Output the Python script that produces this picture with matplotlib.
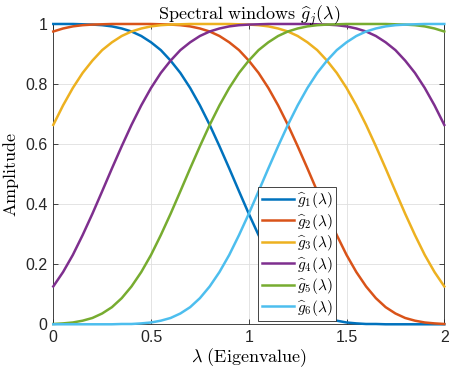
import numpy as np
import matplotlib
matplotlib.use("Agg")
import matplotlib.pyplot as plt

# eigenvalue grid (0 to 2, step 0.05) and the six window curves
lam = [i * 0.05 for i in range(41)]

g1 = [1.000, 1.000, 1.000, 0.999, 0.998, 0.996, 0.992, 0.985, 0.975, 0.960, 0.939,
      0.913, 0.878, 0.837, 0.787, 0.729, 0.664, 0.593, 0.519, 0.443, 0.368, 0.297,
      0.231, 0.174, 0.126, 0.087, 0.057, 0.036, 0.021, 0.012, 0.006, 0.003, 0.001,
      0.001, 0.000, 0.000, 0.000, 0.000, 0.000, 0.000, 0.000]
g2 = [0.975, 0.985, 0.992, 0.996, 0.998, 0.999, 1.000, 1.000, 1.000, 1.000, 1.000,
      0.999, 0.998, 0.996, 0.992, 0.985, 0.975, 0.960, 0.939, 0.913, 0.878, 0.837,
      0.787, 0.729, 0.664, 0.593, 0.519, 0.443, 0.368, 0.297, 0.231, 0.174, 0.126,
      0.087, 0.057, 0.036, 0.021, 0.012, 0.006, 0.003, 0.001]
g3 = [0.664, 0.729, 0.787, 0.837, 0.878, 0.913, 0.939, 0.960, 0.975, 0.985, 0.992,
      0.996, 0.998, 0.999, 1.000, 1.000, 1.000, 1.000, 1.000, 0.999, 0.998, 0.996,
      0.992, 0.985, 0.975, 0.960, 0.939, 0.913, 0.878, 0.837, 0.787, 0.729, 0.664,
      0.593, 0.519, 0.443, 0.368, 0.297, 0.231, 0.174, 0.126]
g4 = [0.126, 0.174, 0.231, 0.297, 0.368, 0.443, 0.519, 0.593, 0.664, 0.729, 0.787,
      0.837, 0.878, 0.913, 0.939, 0.960, 0.975, 0.985, 0.992, 0.996, 0.998, 0.999,
      1.000, 1.000, 1.000, 1.000, 1.000, 0.999, 0.998, 0.996, 0.992, 0.985, 0.975,
      0.960, 0.939, 0.913, 0.878, 0.837, 0.787, 0.729, 0.664]
g5 = [0.001, 0.003, 0.006, 0.012, 0.021, 0.036, 0.057, 0.087, 0.126, 0.174, 0.231,
      0.297, 0.368, 0.443, 0.519, 0.593, 0.664, 0.729, 0.787, 0.837, 0.878, 0.913,
      0.939, 0.960, 0.975, 0.985, 0.992, 0.996, 0.998, 0.999, 1.000, 1.000, 1.000,
      1.000, 1.000, 0.999, 0.998, 0.996, 0.992, 0.985, 0.975]
g6 = [0.000, 0.000, 0.000, 0.000, 0.000, 0.000, 0.000, 0.001, 0.001, 0.003, 0.006,
      0.012, 0.021, 0.036, 0.057, 0.087, 0.126, 0.174, 0.231, 0.297, 0.368, 0.443,
      0.519, 0.593, 0.664, 0.729, 0.787, 0.837, 0.878, 0.913, 0.939, 0.960, 0.975,
      0.985, 0.992, 0.996, 0.998, 0.999, 1.000, 1.000, 1.000]

series = [g1, g2, g3, g4, g5, g6]
labels = [r"$\widehat{g}_{%d}(\lambda)$" % (k + 1) for k in range(6)]
colors = ["#0072BD", "#D95319", "#EDB120", "#7E2F8E", "#77AC30", "#4DBEEE"]

xticks = [0, 0.5, 1, 1.5, 2]
xticklabels = ["0", "0.5", "1", "1.5", "2"]
yticks = [0, 0.2, 0.4, 0.6, 0.8, 1]
yticklabels = ["0", "0.2", "0.4", "0.6", "0.8", "1"]

plt.rcParams["mathtext.fontset"] = "cm"
plt.rcParams["font.family"] = ["Liberation Sans", "DejaVu Sans"]

axcol = "#262626"
fig = plt.figure(figsize=(4.49, 3.73), dpi=100)
ax = fig.add_axes([0.1187, 0.1306, 0.8708, 0.8051])

for y, lab, c in zip(series, labels, colors):
    ax.plot(lam, y, color=c, lw=1.8, label=lab, clip_on=False, zorder=3)

ax.set_xlim(0, 2)
ax.set_ylim(0, 1)
ax.set_xticks(xticks)
ax.set_xticklabels(xticklabels)
ax.set_yticks(yticks)
ax.set_yticklabels(yticklabels)
ax.tick_params(direction="in", top=True, right=True, length=3.5, width=0.6,
               colors=axcol, labelsize=11.5, pad=4)
ax.grid(True, color="#dfdfdf", lw=0.6)
ax.set_axisbelow(True)
for s in ax.spines.values():
    s.set_color(axcol)
    s.set_linewidth(0.6)

ax.set_title(r"$\mathrm{Spectral\ windows}\ \widehat{g}_j(\lambda)$", fontsize=13,
             color="k", pad=3)
ax.set_xlabel(r"$\lambda\ \mathrm{(Eigenvalue)}$", fontsize=13, color="k", labelpad=1)
ax.set_ylabel(r"$\mathrm{Amplitude}$", fontsize=13, color="k", labelpad=3)

leg = ax.legend(loc="center", bbox_to_anchor=(0.624, 0.234), fontsize=11,
                handlelength=2.1, handletextpad=0.25, labelspacing=0.1,
                borderpad=0.2, borderaxespad=0, fancybox=False, framealpha=1)
leg.get_frame().set_edgecolor(axcol)
leg.get_frame().set_linewidth(0.6)

fig.savefig("out.png", dpi=100)
